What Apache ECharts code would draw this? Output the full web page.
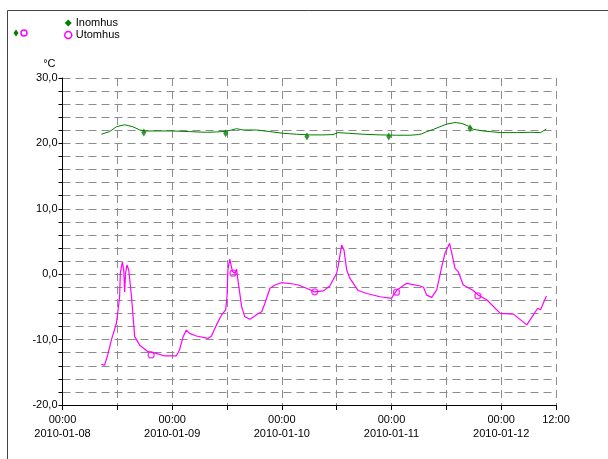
<!DOCTYPE html>
<html>
<head>
<meta charset="utf-8">
<script src="https://cdn.jsdelivr.net/npm/echarts@6/dist/echarts.min.js"></script>
<style>
html,body{margin:0;padding:0;background:#fff;}
#c{width:608px;height:459px;}
</style>
</head>
<body>
<div id="c"></div>
<script>
// Hours since 2010-01-08 00:00
const dateLabels = ['2010-01-08','2010-01-09','2010-01-10','2010-01-11','2010-01-12'];
const seriesNames = ['Inomhus','Utomhus'];

const indoorHours = [8.5,10.3,11.8,13.6,15.4,16.9,18.0,20.5,24.1,27.8,31.5,33.7,35.7,37.0,38.1,39.5,42.5,45.4,48.2,51.2,54.1,57.0,59.2,60.3,62.5,65.8,69.5,73.1,76.1,77.9,78.6,79.7,81.2,82.6,84.1,85.9,87.4,88.8,89.9,92.1,95.8,99.4,102.4,104.6,105.9];
const indoorTemps = [21.4,21.8,22.55,22.85,22.55,22.05,21.9,21.9,21.9,21.8,21.7,21.75,21.85,22.05,22.25,22.05,22.05,21.8,21.55,21.4,21.3,21.3,21.35,21.65,21.55,21.4,21.3,21.25,21.25,21.35,21.45,21.8,22.15,22.55,22.95,23.2,23.05,22.65,22.15,21.9,21.65,21.65,21.7,21.65,22.2];

const outdoorHours = [8.5,9.2,9.9,10.7,11.8,12.5,12.65,13.1,13.4,13.6,13.8,14.1,14.5,15.1,15.8,16.9,18.7,20.5,22.4,24.9,25.6,26.4,27.1,27.8,29.3,31.9,32.6,33.7,34.8,35.7,36.0,36.2,36.6,37.2,37.7,38.1,38.4,39.2,39.9,41.0,42.1,42.8,43.6,44.3,45.4,46.5,47.9,50.5,51.6,53.4,55.2,57.1,58.5,60.0,60.3,61.1,61.6,62.2,62.9,64.7,66.6,69.5,72.0,72.4,73.1,75.3,78.3,79.0,79.7,80.8,81.9,83.0,83.7,84.7,85.2,85.9,86.6,87.7,89.9,91.0,92.9,95.8,98.7,101.6,102.7,104.0,104.6,105.9];
const outdoorTemps = [-13.8,-13.9,-12.35,-10.05,-7.5,-3.45,0.15,1.9,0.65,-2.7,0.15,1.4,0.65,-3.45,-9.55,-10.85,-11.85,-12.1,-12.5,-12.5,-11.6,-9.55,-8.55,-9.05,-9.45,-9.8,-9.45,-7.75,-6.25,-5.45,-3.45,0.65,2.3,0.4,0.15,0.75,-0.9,-4.95,-6.5,-6.9,-6.4,-6.0,-5.75,-4.45,-2.15,-1.65,-1.3,-1.5,-1.65,-2.15,-2.7,-2.55,-1.8,0.15,1.15,4.45,3.7,0.65,-0.65,-2.5,-2.95,-3.45,-3.7,-3.2,-2.5,-1.4,-1.8,-2.0,-3.2,-3.55,-2.4,1.15,3.2,4.7,3.2,0.9,0.4,-1.65,-2.5,-3.2,-3.95,-6.0,-6.1,-7.75,-6.6,-5.2,-5.45,-3.35];

const indoorMarkerHours = [17.8,35.7,53.5,71.4,89.2];
const indoorMarkerTemps = [21.65,21.55,21.05,21.05,22.3];
const outdoorMarkerHours = [19.4,37.3,55.2,73.1,90.9];
const outdoorMarkerTemps = [-12.35,0.15,-2.7,-2.75,-3.3];

const xMax = 108;
const zip = (a,b) => a.map((v,i)=>[v,b[i]]);
const green = '#008000', magenta = '#ff00ff';
const font = 'Liberation Sans, Arial, sans-serif';

const chart = echarts.init(document.getElementById('c'), null, {renderer:'canvas'});
chart.setOption({
  animation:false,
  backgroundColor:'#fff',
  textStyle:{fontFamily:font},
  grid:{left:62.5,right:52,top:78,bottom:54,containLabel:false},
  legend:{
    left:64, top:17, orient:'vertical', itemGap:0, itemWidth:7, itemHeight:7, padding:0,
    textStyle:{fontSize:11,color:'#000',fontFamily:font,padding:[0,0,0,-1],lineHeight:12},
    data:[
      {name:seriesNames[0], icon:'diamond', itemStyle:{color:green,borderWidth:0}},
      {name:seriesNames[1], icon:'circle', itemStyle:{color:'#fff',borderColor:magenta,borderWidth:1.5}}
    ]
  },
  xAxis:{
    type:'value', min:0, max:xMax, interval:12,
    axisLine:{onZero:false,lineStyle:{color:'#000',width:1}},
    axisTick:{show:true,length:5,lineStyle:{color:'#000'}},
    splitLine:{show:true,lineStyle:{color:'#8c8c8c',type:[8,5],width:1}},
    axisLabel:{
      color:'#000', fontSize:11, fontFamily:font, margin:8, lineHeight:14,
      showMinLabel:true, showMaxLabel:true, hideOverlap:false,
      formatter:function(v){
        if (v % 24 === 0) return '00:00\n' + dateLabels[v/24];
        if (v === xMax) return '12:00';
        return '';
      }
    }
  },
  yAxis:{
    type:'value', min:-20, max:30, interval:2,
    name:'°C', nameLocation:'end', nameGap:9,
    nameTextStyle:{color:'#000',fontSize:11,fontFamily:font,align:'right',padding:[0,7,0,0]},
    axisLine:{show:true,onZero:false,lineStyle:{color:'#000',width:1}},
    axisTick:{show:true,length:4,lineStyle:{color:'#000'}},
    splitLine:{show:true,lineStyle:{color:'#8c8c8c',type:[8,5],width:1}},
    axisLabel:{
      color:'#000', fontSize:11, fontFamily:font, margin:5,
      showMinLabel:true, showMaxLabel:true,
      formatter:function(v){ return (Math.round(v) % 10 === 0) ? v.toFixed(1).replace('.',',') : ''; }
    }
  },
  series:[
    {name:seriesNames[0], type:'line', data:zip(indoorHours,indoorTemps), showSymbol:false,
     lineStyle:{color:green,width:1}, itemStyle:{color:green}, z:3},
    {name:seriesNames[1], type:'line', data:zip(outdoorHours,outdoorTemps), showSymbol:false,
     lineStyle:{color:magenta,width:1.2}, itemStyle:{color:magenta}, z:3},
    {name:seriesNames[0], type:'scatter', data:zip(indoorMarkerHours,indoorMarkerTemps),
     symbol:'diamond', symbolSize:[5,8], itemStyle:{color:green}, z:4},
    {name:seriesNames[1], type:'scatter', data:zip(outdoorMarkerHours,outdoorMarkerTemps),
     symbol:'circle', symbolSize:6, itemStyle:{color:'rgba(0,0,0,0)',borderColor:magenta,borderWidth:1.3}, z:4}
  ],
  graphic:[
    {type:'rect', shape:{x:7.5,y:10.5,width:800,height:600}, style:{fill:'none',stroke:'#444',lineWidth:1}, silent:true, z:0},
    {type:'polygon', shape:{points:[[16,29.5],[18.5,33],[16,36.5],[13.5,33]]}, style:{fill:green}, silent:true},
    {type:'circle', shape:{cx:24,cy:33,r:3}, style:{fill:'#fff',stroke:magenta,lineWidth:1.5}, silent:true}
  ]
});
</script>
</body>
</html>
